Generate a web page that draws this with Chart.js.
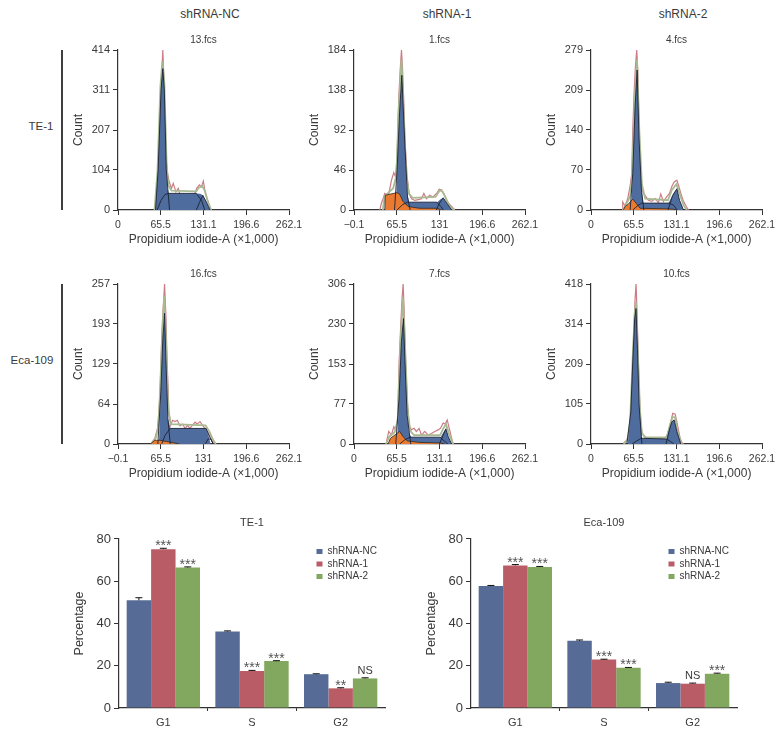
<!DOCTYPE html>
<html><head><meta charset="utf-8">
<script src="https://cdn.jsdelivr.net/npm/chart.js@4"></script>
<style>
html,body{margin:0;padding:0;background:#fff;overflow:hidden}
body{width:782px;height:737px;position:relative}
canvas{position:absolute}
.t{position:absolute;transform:translate(-50%,-50%);font:12px "Liberation Sans",sans-serif;color:#3a3a3a;white-space:nowrap}
.v{position:absolute;left:61px;width:2px;height:160px;background:#3f3f3f}
</style></head><body>
<div class="t" style="left:210px;top:14px">shRNA-NC</div>
<div class="t" style="left:447px;top:14px">shRNA-1</div>
<div class="t" style="left:683px;top:14px">shRNA-2</div>
<div class="t" style="left:41px;top:126px;font-size:11.5px">TE-1</div>
<div class="t" style="left:32px;top:360px;font-size:11.5px">Eca-109</div>
<div class="v" style="top:50px"></div>
<div class="v" style="top:284px"></div>
<script>
// ---------- histogram tick values ----------
const xTicks13=[0,65.5,131.1,196.6,262.1], yTicks13=[0,104,207,311,414];
const xTicks1=[-0.1,65.5,131,196.6,262.1], yTicks1=[0,46,92,138,184];
const xTicks4=[0,65.5,131.1,196.6,262.1], yTicks4=[0,70,140,209,279];
const xTicks16=[-0.1,65.5,131,196.6,262.1], yTicks16=[0,64,129,193,257];
const xTicks7=[0,65.5,131.1,196.6,262.1], yTicks7=[0,77,153,230,306];
const xTicks10=[0,65.5,131.1,196.6,262.1], yTicks10=[0,105,209,314,418];
// ---------- histogram traces: [x (×1,000), count] ----------
const raw13=[[58,0],[60.5,40],[62.6,130],[64.6,240],[66.7,340],[68.7,414],[70.3,340],[72.3,220],[74.4,120],[75.9,95],[78.5,73],[82,56],[84.7,69],[88.8,47],[92.4,56],[95,39],[100,41],[102.6,34],[105,30],[107.7,36],[110,34],[114,39],[118,43],[120.6,56],[124.7,65],[128,60],[130.8,75],[133,52],[135.5,35],[138.7,18],[142,2],[143,0]];
const fit13=[[56,0],[60.5,100],[65,320],[68,385],[71,330],[74.5,120],[77,65],[82,50],[120,48],[124,58],[129,62],[133,50],[138,20],[143,0]];
const blue13=[[57.4,0],[61.5,104],[66,311],[68.7,366],[71,311],[74,104],[76,55],[78,43],[120,43],[126,42],[130,38],[135,22],[141,0]];
const orange13=[];
const g1c13=[[57.5,0],[61.5,104],[66,311],[68.7,366],[71,311],[74,104],[79,0]];
const sc13=[[60,0],[66,25],[72,40],[78,43],[120,43],[128,25],[133,0]];
const g2c13=[[120,0],[125,20],[130,38],[135,22],[141,0]];

const raw1=[[39.4,0],[42,8],[44.5,13],[47.1,19],[49.7,18],[53.3,19],[57.3,34],[60.9,43],[63.5,38],[66,61],[68.6,130],[70.7,161],[72.7,184],[74.2,165],[76.3,123],[78.3,77],[81.4,38],[84.5,19],[88,13],[93.2,11],[98.3,12],[103.4,13],[107,19],[111,13],[116,17],[121,15],[126.5,19],[130.6,24],[134,23],[137.7,19],[141.8,11],[147,6],[152,2],[154.6,0]];
const fit1=[[44,0],[47,16],[60,25],[65,40],[68,110],[72.7,173],[76,110],[80,40],[84,19],[90,14],[125,15],[130,21],[134,23],[140,15],[146,5],[153,0]];
const blue1=[[64,0],[66,46],[70,115],[73.2,155],[78,73],[81.4,19],[84.5,9],[127.5,9],[132,12],[136.7,14],[143,7],[149.5,0]];
const orange1=[[47,0],[48,17],[66,20],[70,18],[75,10],[83,4],[100,2],[126,2],[134,0]];
const g1c1=[[62,0],[66,46],[70,115],[73.2,155],[78,73],[82,15],[86,0]];
const sc1=[[66,0],[74,6],[82,9],[127,9],[133,4],[137,0]];
const g2c1=[[126,0],[131,8],[136.7,14],[143,7],[149.5,0]];

const raw4=[[48.6,0],[48.6,14],[52.2,7],[56.3,20],[59.9,41],[62.5,64],[64,139],[66,203],[68.1,250],[70.1,279],[71.7,244],[73.2,168],[75.3,81],[77.8,41],[80.4,29],[84.5,23],[88,17],[93.2,15],[98.3,20],[103.4,13],[107,28],[111,15],[116,23],[120.3,29],[123.9,41],[127.5,49],[131.6,52],[134.7,41],[137.7,29],[141.8,15],[146,6],[149.5,0]];
const fit4=[[49,0],[54,10],[60,24],[63,60],[67,190],[70.5,262],[74,140],[78,45],[83,20],[118,17],[124,35],[131,45],[136,28],[142,8],[147,0]];
const blue4=[[61.4,0],[64,64],[67.6,180],[70.7,244],[73.7,122],[77.3,35],[80.4,12],[118.8,12],[126.5,29],[131.6,37],[135.7,17],[141.8,0]];
const orange4=[[49.7,0],[52.2,6],[57,10],[64,19],[69,12],[75.3,3],[116,2],[125,1.5],[131.6,0]];
const g1c4=[[60,0],[64,64],[67.6,180],[70.7,244],[73.7,122],[77.3,35],[81,0]];
const sc4=[[64,0],[72,8],[78,12],[120,12],[127,8],[132,0]];
const g2c4=[[118,0],[125,25],[131.6,37],[135.7,17],[141.8,0]];

const raw16=[[51,1],[56.4,9],[60.5,25],[64,73],[66.7,159],[69.2,218],[71.3,257],[73.3,207],[75.4,127],[78,52],[80.5,30],[83.6,38],[87.2,36],[90.8,38],[94.9,29],[99,32],[102.6,25],[106.7,30],[110,25],[114,30],[118,35],[121.5,32],[125.6,36],[129.7,30],[133,25],[137,20],[141,12],[145,4],[147,0]];
const fit16=[[51,0],[58,10],[62,30],[65,100],[68,190],[71,238],[74,150],[77,55],[81,32],[134,30],[140,20],[146,6],[150,0]];
const blue16=[[62.6,0],[65.6,84],[68.7,170],[71.3,210],[73.3,137],[76.4,41],[80.5,25],[134.9,25],[138.5,14],[142,0]];
const orange16=[[49.7,0],[56.4,6],[64,6],[74.4,4],[94,0]];
const g1c16=[[61,0],[65.6,84],[68.7,170],[71.3,210],[73.3,137],[76.4,41],[80,0]];
const sc16=[[67,0],[72,14],[80,25],[135,25],[141,10],[146,0]];
const g2c16=[[134,0],[138,8],[142,8],[146,0]];

const raw7=[[49.7,4],[53.3,24],[57.3,17],[61,33],[64,27],[67,49],[69,151],[71.7,228],[73.7,279],[75.3,306],[76.8,259],[78.9,164],[81.4,87],[84.5,36],[88,27],[92,30],[95.6,24],[99.8,30],[103.4,17],[108.5,24],[113.6,17],[118.8,20],[123.9,24],[129,27],[132.6,30],[136.7,40],[139.8,38],[142.9,46],[146,30],[148.5,17],[151,4],[153,0]];
const fit7=[[49,0],[54,14],[62,22],[67,45],[71,190],[75,280],[78.5,180],[82,70],[86,25],[92,17],[132,17],[137,30],[141,38],[146,18],[152,0]];
const blue7=[[66,0],[69,87],[72.7,196],[75.8,240],[78.3,151],[81.4,55],[84.5,20],[88,13],[132.6,13],[137.7,24],[140.8,29],[144.4,14],[149.5,0]];
const orange7=[[52.2,0],[55.8,11],[62.5,17],[70,24],[75.3,14],[81.4,6],[100.9,3],[131.6,2],[139.3,0]];
const g1c7=[[64,0],[69,87],[72.7,196],[75.8,240],[78.3,151],[81.4,55],[87,0]];
const sc7=[[70,0],[78,8],[86,13],[132,13],[139,5],[144,0]];
const g2c7=[[131,0],[136,15],[140.8,29],[144.4,14],[149.5,0]];

const raw10=[[49.7,2],[54.8,10],[58.4,28],[61.4,84],[64,206],[66,311],[67.6,381],[69.1,418],[70.7,337],[72.7,206],[75.3,76],[77.8,32],[81.4,19],[85.5,13],[90.6,15],[95.7,11],[100.9,13],[106,15],[112,13],[117,24],[120.3,41],[122.9,63],[125.4,80],[129,78],[131.6,58],[134,37],[136.7,15],[139.2,4],[141.8,0]];
const fit10=[[50,0],[56,10],[60,60],[64,230],[67,340],[69,370],[72,230],[75,90],[78,28],[84,17],[116,17],[121,50],[125,70],[129,70],[133,30],[139,0]];
const blue10=[[56.3,0],[61,84],[64,215],[67,328],[69,354],[71.2,250],[73.7,102],[77.8,15],[116,13],[120.3,41],[123.9,58],[127.5,63],[131.6,32],[137.7,0]];
const orange10=[];
const g1c10=[[55,0],[61,84],[64,215],[67,328],[69,354],[71.2,250],[73.7,102],[78,0]];
const sc10=[[63,0],[70,8],[77,15],[116,13],[122,6],[127,0]];
const g2c10=[[115,0],[120.3,38],[123.9,58],[127.5,63],[131.6,32],[137.7,0]];

// ---------- bar chart values ----------
const phases=['G1','S','G2'];
const groups=['shRNA-NC','shRNA-1','shRNA-2'];
const teNC=[51,36.2,16], te1=[75.2,17.5,9.3], te2=[66.5,22.2,14];
const teNCerr=[1.2,0.3,0.2], te1err=[0.4,0.3,0.3], te2err=[0.3,0.2,0.3];
const teSig1=['***','***','**'], teSig2=['***','***','NS'];
const ecaNC=[57.7,31.8,11.8], eca1=[67.5,22.9,11.5], eca2=[66.8,19,16.2];
const ecaNCerr=[0.3,0.4,0.4], eca1err=[0.4,0.2,0.3], eca2err=[0.2,0.2,0.3];
const ecaSig1=['***','***','NS'], ecaSig2=['***','***','***'];

// ---------- shared styling ----------
const SANS='"Liberation Sans",sans-serif';
const INK='#3a3a3a', AXIS='#333333';
const BLUE='#4f6c9e', ORANGE='#ea7a30';
const fmt=v=>String(v).replace('-','\u2212');
const pts=a=>a.map(p=>({x:p[0],y:p[1]}));
Chart.defaults.animation=false;

function hist(left,top,title,xT,yT,raw,fit,blue,orange,g1,s,g2){
  const c=document.createElement('canvas');
  c.width=241;c.height=221;c.style.left=left+'px';c.style.top=top+'px';
  document.body.appendChild(c);
  const line=(d,col,w,ord,extra)=>Object.assign({data:pts(d),borderColor:col,borderWidth:w,pointRadius:0,tension:0,fill:false,order:ord},extra||{});
  new Chart(c,{type:'line',data:{datasets:[
    line(raw,'#cb7d86',1.2,7),
    line(fit,'#a9ba93',1.8,6),
    line(blue,'rgba(0,0,0,0)',0,5,{fill:'origin',backgroundColor:BLUE}),
    line(orange,'#2a2a2a',0.8,4,{fill:'origin',backgroundColor:ORANGE}),
    line(g1,'#1c2233',0.9,3),
    line(s,'#1c2233',0.9,2),
    line(g2,'#1c2233',0.9,1)
  ]},options:{responsive:false,devicePixelRatio:1,layout:{padding:{right:20}},
    plugins:{legend:{display:false},tooltip:{enabled:false},
      title:{display:true,text:title,fullSize:false,color:INK,font:{family:SANS,size:10,weight:'normal',lineHeight:1.2},padding:{top:8,bottom:4}}},
    scales:{
      x:{type:'linear',min:xT[0],max:xT[xT.length-1],
        afterBuildTicks:a=>{a.ticks=xT.map(v=>({value:v}))},afterFit:a=>{a.height=37},
        border:{color:AXIS,width:1.2},grid:{drawOnChartArea:false,tickColor:AXIS,tickLength:5},
        ticks:{autoSkip:false,maxRotation:0,padding:4,color:INK,font:{family:SANS,size:10.5},callback:fmt},
        title:{display:true,text:'Propidium iodide-A (\u00d71,000)',color:INK,padding:0,font:{family:SANS,size:12}}},
      y:{type:'linear',min:0,max:yT[yT.length-1],
        afterBuildTicks:a=>{a.ticks=yT.map(v=>({value:v}))},afterFit:a=>{a.width=50},
        border:{color:AXIS,width:1.2},grid:{drawOnChartArea:false,tickColor:AXIS,tickLength:5},
        ticks:{autoSkip:false,padding:3,color:INK,font:{family:SANS,size:11},callback:fmt},
        title:{display:true,text:'Count',color:INK,padding:{top:3,bottom:0},font:{family:SANS,size:12}}}
    }}});
}
hist(68,26,'13.fcs',xTicks13,yTicks13,raw13,fit13,blue13,orange13,g1c13,sc13,g2c13);
hist(304,26,'1.fcs',xTicks1,yTicks1,raw1,fit1,blue1,orange1,g1c1,sc1,g2c1);
hist(541,26,'4.fcs',xTicks4,yTicks4,raw4,fit4,blue4,orange4,g1c4,sc4,g2c4);
hist(68,260,'16.fcs',xTicks16,yTicks16,raw16,fit16,blue16,orange16,g1c16,sc16,g2c16);
hist(304,260,'7.fcs',xTicks7,yTicks7,raw7,fit7,blue7,orange7,g1c7,sc7,g2c7);
hist(541,260,'10.fcs',xTicks10,yTicks10,raw10,fit10,blue10,orange10,g1c10,sc10,g2c10);

const barExtras={id:'barExtras',
  afterLayout(ch){const l=ch.legend;const a=ch.chartArea;l.left=a.right-71;l.right=a.right;l.top=a.top+5;l.bottom=a.top+60;},
  afterDatasetsDraw(ch){
    const c=ch.ctx,y=ch.scales.y;
    ch.data.datasets.forEach((d,i)=>{
      const m=ch.getDatasetMeta(i);
      m.data.forEach((b,j)=>{
        const top=y.getPixelForValue(d.data[j]+d.err[j]);
        c.save();c.strokeStyle='#111';c.lineWidth=1;
        c.beginPath();c.moveTo(b.x,b.y);c.lineTo(b.x,top);c.moveTo(b.x-3.5,top);c.lineTo(b.x+3.5,top);c.stroke();
        const s=d.sig&&d.sig[j];
        if(s){
          c.textAlign='center';c.textBaseline='alphabetic';
          if(s==='NS'){c.fillStyle='#3a3a3a';c.font='11px '+SANS;c.fillText(s,b.x,top-4);}
          else{c.fillStyle='#555';c.font='14px '+SANS;c.fillText(s,b.x,top+2);}
        }
        c.restore();
      });
    });
  }};
function bars(left,width,title,vals,errs,sigs){
  const c=document.createElement('canvas');
  c.width=width;c.height=226;c.style.left=left+'px';c.style.top='511px';
  document.body.appendChild(c);
  const cols=['#566c96','#b95c66','#82a75e'];
  new Chart(c,{type:'bar',plugins:[barExtras],data:{labels:phases,datasets:groups.map((g,i)=>({
      label:g,data:vals[i],err:errs[i],sig:sigs[i],backgroundColor:cols[i],borderWidth:0,categoryPercentage:0.827,barPercentage:1}))},
    options:{responsive:false,devicePixelRatio:1,layout:{padding:{right:3}},
      plugins:{tooltip:{enabled:false},
        title:{display:true,text:title,fullSize:false,color:INK,font:{family:SANS,size:11,weight:'normal',lineHeight:1.09},padding:{top:6,bottom:10}},
        legend:{position:'chartArea',align:'start',labels:{boxWidth:6,boxHeight:5,padding:2.5,color:INK,font:{family:SANS,size:10}}}},
      scales:{
        x:{afterFit:a=>{a.height=29},border:{color:AXIS,width:1.2},
          grid:{offset:true,drawOnChartArea:false,tickLength:3,tickColor:t=>(t.index===1||t.index===2)?AXIS:'rgba(0,0,0,0)'},
          ticks:{padding:5,color:INK,font:{family:SANS,size:11}}},
        y:{min:0,max:80,afterBuildTicks:a=>{a.ticks=[0,20,40,60,80].map(v=>({value:v}))},afterFit:a=>{a.width=50},
          border:{color:AXIS,width:1.2},grid:{drawOnChartArea:false,tickColor:AXIS,tickLength:5},
          ticks:{padding:3,color:INK,font:{family:SANS,size:13}},
          title:{display:true,text:'Percentage',color:INK,padding:{top:3,bottom:0},font:{family:SANS,size:12.5}}}
      }}});
}
bars(69,319,'TE-1',[teNC,te1,te2],[teNCerr,te1err,te2err],[null,teSig1,teSig2]);
bars(421,319,'Eca-109',[ecaNC,eca1,eca2],[ecaNCerr,eca1err,eca2err],[null,ecaSig1,ecaSig2]);
</script>
</body></html>
